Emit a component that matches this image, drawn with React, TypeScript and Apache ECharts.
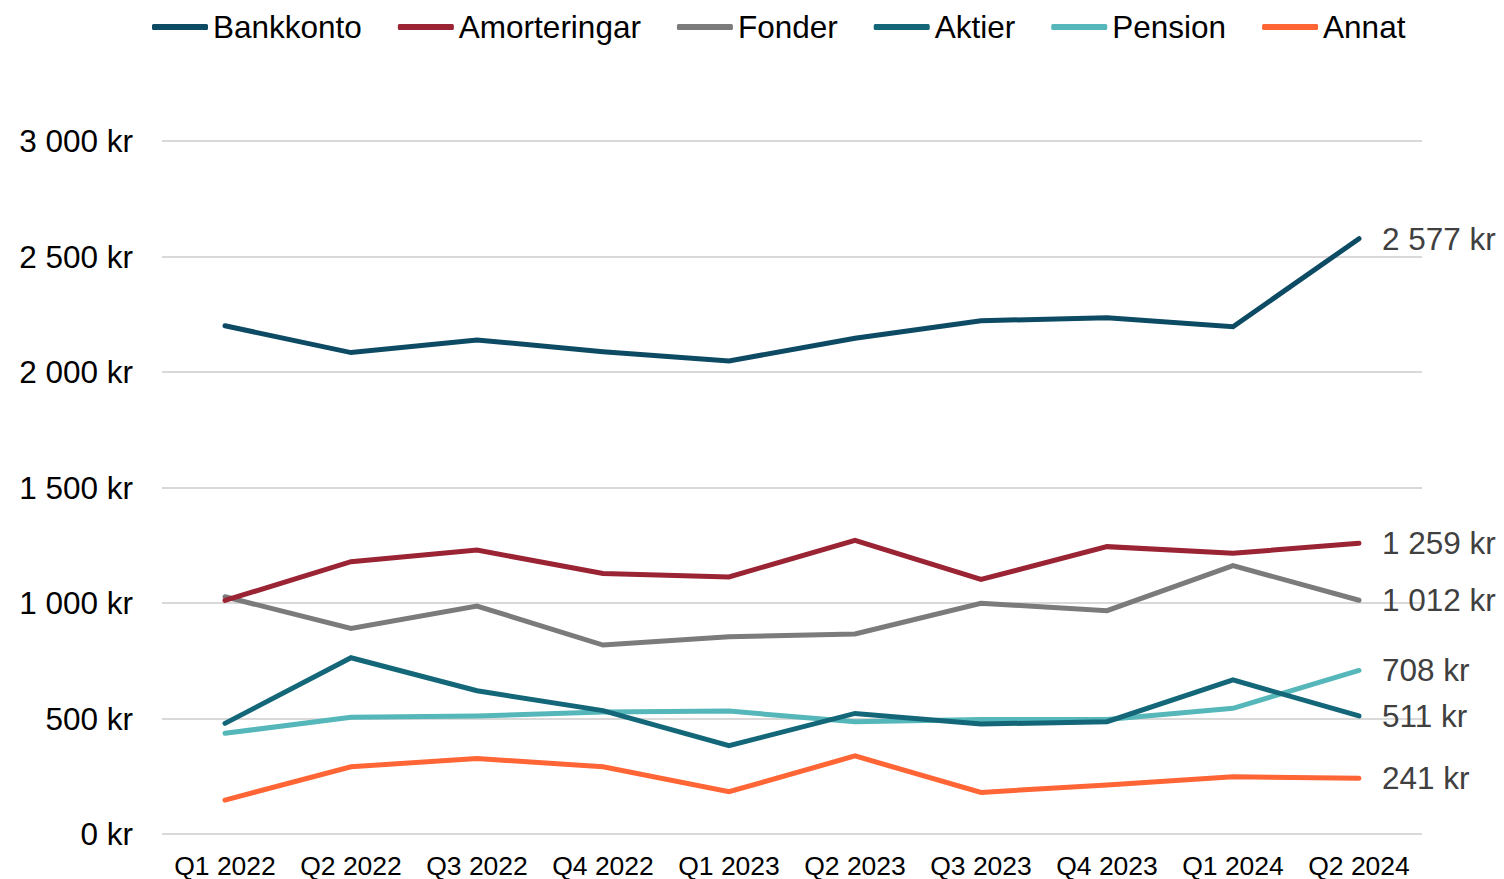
import React, { useEffect, useRef } from "react";
import * as echarts from "echarts";

const categories = ["Q1 2022", "Q2 2022", "Q3 2022", "Q4 2022", "Q1 2023", "Q2 2023", "Q3 2023", "Q4 2023", "Q1 2024", "Q2 2024"];

const bankkonto = [2200, 2084, 2139, 2088, 2048, 2146, 2222, 2235, 2196, 2577];
const amorteringar = [1011, 1179, 1229, 1128, 1113, 1271, 1102, 1244, 1215, 1259];
const fonder = [1027, 890, 987, 818, 854, 866, 999, 967, 1162, 1012];
const aktier = [479, 763, 620, 534, 382, 522, 476, 486, 667, 511];
const pension = [436, 505, 511, 528, 532, 486, 496, 496, 544, 708];
const annat = [147, 291, 327, 291, 183, 338, 180, 212, 248, 241];

const seriesNames = ["Bankkonto", "Amorteringar", "Fonder", "Aktier", "Pension", "Annat"];
const seriesData = [bankkonto, amorteringar, fonder, aktier, pension, annat];
const seriesColors = ["#0d4a63", "#9a2334", "#7b7b7b", "#136778", "#55b7b9", "#ff6535"];

const yTicks = { min: 0, max: 3000, interval: 500 };

const FONT = "Arial, 'Liberation Sans', sans-serif";

function fmtKr(v: number): string {
  const s = Math.round(v).toString().replace(/\B(?=(\d{3})+(?!\d))/g, " ");
  return s + " kr";
}

export default function App() {
  const ref = useRef<HTMLDivElement>(null);
  useEffect(() => {
    if (!ref.current) return;
    const chart = echarts.init(ref.current, null, { renderer: "svg" });
    chart.setOption({
      animation: false,
      backgroundColor: "#ffffff",
      textStyle: { fontFamily: FONT },
      legend: {
        top: 6,
        left: 147,
        icon: "roundRect",
        itemWidth: 56,
        itemHeight: 6,
        itemGap: 36,
        textStyle: { fontSize: 31.5, color: "#000000", fontFamily: FONT },
        data: seriesNames,
      },
      grid: { left: 162, right: 82, top: 141, bottom: 45, containLabel: false },
      xAxis: {
        type: "category",
        data: categories,
        boundaryGap: true,
        axisLine: { show: false },
        axisTick: { show: false },
        axisLabel: { interval: 0, fontSize: 26.5, color: "#000000", margin: 18, fontFamily: FONT },
      },
      yAxis: {
        type: "value",
        min: yTicks.min,
        max: yTicks.max,
        interval: yTicks.interval,
        axisLine: { show: false },
        axisTick: { show: false },
        axisLabel: { fontSize: 31.5, color: "#000000", margin: 29, fontFamily: FONT, formatter: (v: number) => fmtKr(v) },
        splitLine: { lineStyle: { color: "#d9d9d9", width: 2 } },
      },
      series: seriesNames.map((name, i) => ({
        name,
        type: "line",
        data: seriesData[i],
        symbol: "none",
        showSymbol: false,
        color: seriesColors[i],
        lineStyle: { width: 5, color: seriesColors[i], cap: "round", join: "miter" },
        endLabel: {
          show: true,
          distance: 23,
          fontSize: 31.5,
          color: "#404040",
          fontFamily: FONT,
          formatter: (p: any) => fmtKr(p.value),
        },
        z: 10 - i,
      })),
    });
    return () => chart.dispose();
  }, []);
  return <div ref={ref} style={{ width: 1504, height: 879, position: "absolute", left: 0, top: 0 }} />;
}
